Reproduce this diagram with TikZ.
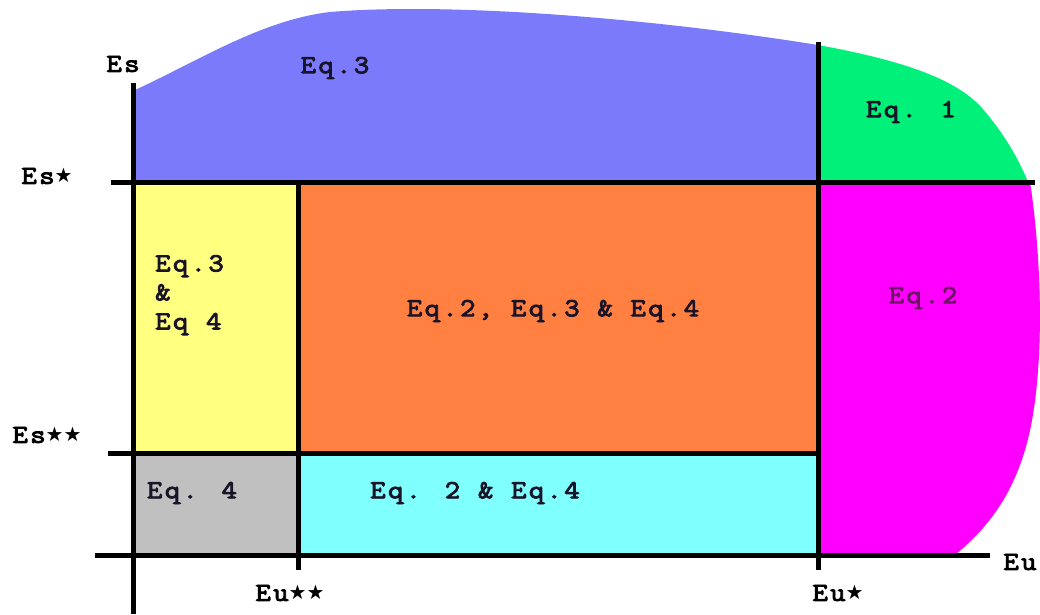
\documentclass[tikz,border=0pt]{standalone}
\usepackage{fontspec}
\newfontfamily\labf{Latin Modern Mono}[LetterSpace=9, FakeBold=3.5, FakeStretch=1.15]
\newfontfamily\starf{DejaVu Sans}
\newcommand{\stk}{{\starf\fontsize{20}{20}\selectfont\raisebox{1pt}{★}}}
\definecolor{cblue}{RGB}{122,122,250}
\definecolor{cgreen}{RGB}{0,240,122}
\definecolor{cyel}{RGB}{255,255,128}
\definecolor{corange}{RGB}{255,128,64}
\definecolor{cmag}{RGB}{255,0,255}
\definecolor{cgray}{RGB}{192,192,192}
\definecolor{ccyan}{RGB}{128,255,255}
\definecolor{ctext}{RGB}{25,20,40}
\definecolor{cpurp}{RGB}{110,20,100}
\begin{document}
\begin{tikzpicture}[x=1pt,y=-1pt,
  axis/.style={line width=5pt,black},
  lab/.style={font=\labf\fontsize{26}{28}\selectfont,text=ctext,inner sep=0pt},
  axlab/.style={font=\labf\fontsize{26}{28}\selectfont,text=black,inner sep=0pt}]
\useasboundingbox (0,0) rectangle (1040,614);
% regions
\fill[cblue] (135,90) .. controls (200,60) and (262,20) .. (330,12)
  .. controls (450,2) and (650,18) .. (818,45) -- (818,182) -- (135,182) -- cycle;
\fill[cgreen] (818,45) .. controls (900,60) and (955,78) .. (982,108)
  .. controls (1005,135) and (1018,158) .. (1028,182) -- (818,182) -- cycle;
\fill[cmag] (818,182) -- (1030,182) .. controls (1042,260) and (1046,380) .. (1025,450)
  .. controls (1010,500) and (985,530) .. (955,555) -- (818,555) -- cycle;
\fill[cyel] (135,182) rectangle (298,453);
\fill[corange] (298,182) rectangle (818,453);
\fill[cgray] (135,453) rectangle (298,555);
\fill[ccyan] (298,453) rectangle (818,555);
% lines
\coordinate (vT) at (133,83);  \coordinate (vB) at (133,614);
\coordinate (h1L) at (111,182); \coordinate (h1R) at (1035,182);
\coordinate (h2L) at (108,453); \coordinate (h2R) at (818,453);
\coordinate (h3L) at (95,555);  \coordinate (h3R) at (990,555);
\coordinate (u2T) at (298,182); \coordinate (u2B) at (298,570);
\coordinate (u1T) at (818,42);  \coordinate (u1B) at (818,570);
\draw[axis] (vT) -- (vB);
\draw[axis] (h1L) -- (h1R);
\draw[axis] (h2L) -- (h2R);
\draw[axis] (h3L) -- (h3R);
\draw[axis] (u2T) -- (u2B);
\draw[axis] (u1T) -- (u1B);
% axis labels
\node[axlab] (es)   at (123,64)  {Es};
\node[axlab] (es1)  at (47,176)  {Es\stk};
\node[axlab] (es2)  at (47,435)  {Es\stk\stk};
\node[axlab] (eu)   at (1020,562) {Eu};
\node[axlab] (eu1)  at (838,593) {Eu\stk};
\node[axlab] (eu2)  at (290,593) {Eu\stk\stk};
% region labels
\node[lab] (r3)  at (335,68)  {Eq.3};
\node[lab] (r1)  at (911,112) {Eq. 1};
\node[lab,text=cpurp] (r2)  at (923,298) {Eq.2};
\node[lab,anchor=north west,align=left,font=\labf\fontsize{26}{29}\selectfont] (r34) at (155,255) {Eq.3\\\&\\Eq 4};
\node[lab] (r234) at (553,311) {Eq.2, Eq.3 \& Eq.4};
\node[lab] (r4)  at (192,493) {Eq. 4};
\node[lab] (r24) at (475,493) {Eq. 2 \& Eq.4};
\end{tikzpicture}
\end{document}
